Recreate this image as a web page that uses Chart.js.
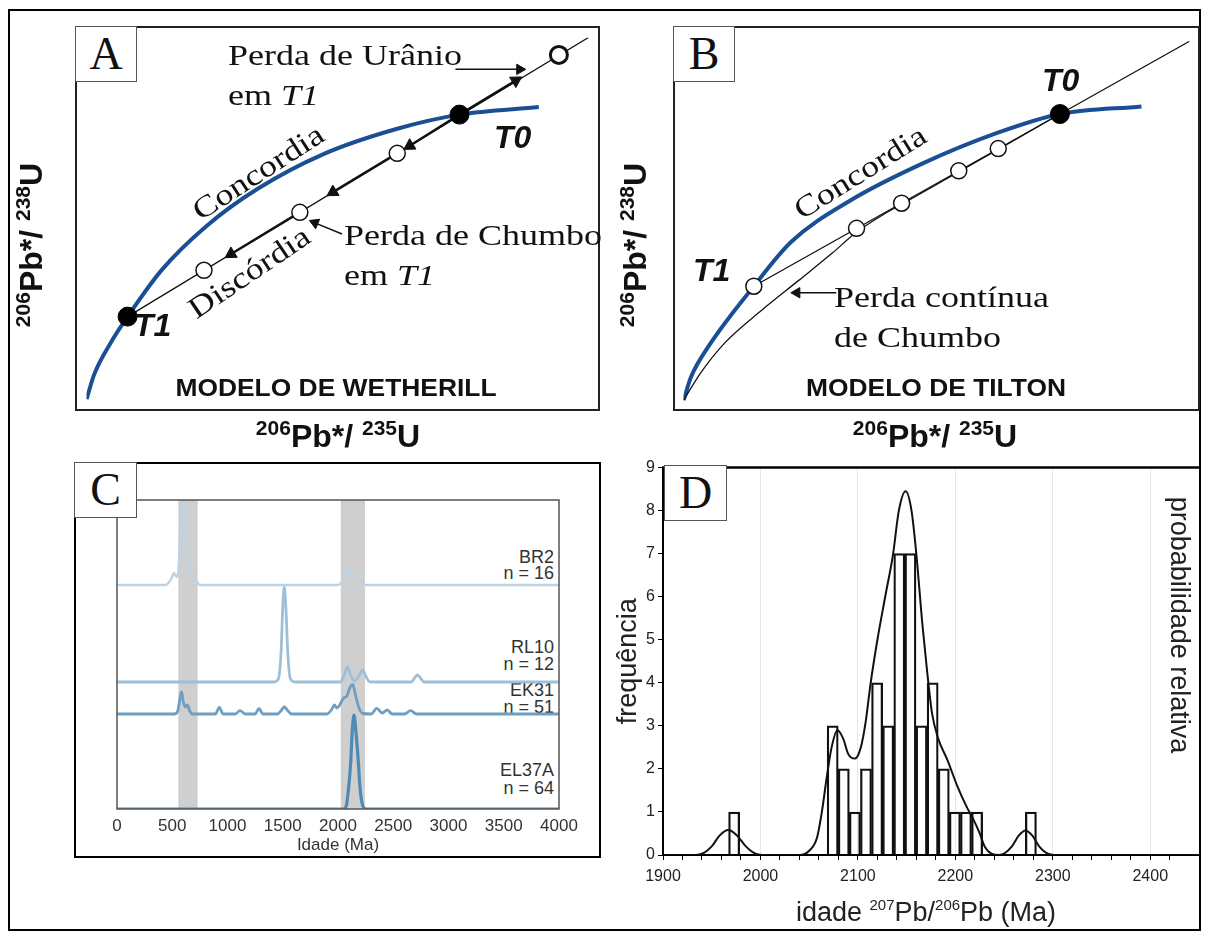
<!DOCTYPE html>
<html>
<head>
<meta charset="utf-8">
<script src="https://cdn.jsdelivr.net/npm/chart.js@4.4.1/dist/chart.umd.min.js"></script>
<style>
  body { margin: 0; background: #fff; width: 1206px; height: 937px; position: relative; overflow: hidden;
         font-family: "Liberation Sans", Arial, sans-serif; color: #111; }
  canvas { position: absolute; z-index: 1; }
  .box { position: absolute; box-sizing: border-box; border: 2px solid #222; z-index: 2; }
  .tag { position: absolute; box-sizing: border-box; border: 1.5px solid #555; background: #fff; z-index: 4;
         font: 46px "Liberation Serif", serif; text-align: center; line-height: 54px; }
  .t { position: absolute; white-space: nowrap; line-height: 1; z-index: 3; }
  .serif { font-family: "Liberation Serif", serif; font-size: 30px; }
  .ax { font-weight: bold; font-size: 32px; }
  .ax sup, .dx sup { vertical-align: 0; position: relative; }
  .ax sup { font-size: 21px; top: -12px; }
  .tt { font-weight: bold; font-style: italic; font-size: 32px; }
  .mod { font-weight: bold; font-size: 24px; }
  .cl { font-size: 18px; color: #333; z-index: 0; line-height: 1; }
  .dx { font-size: 27px; color: #222; }
  .dx sup { font-size: 15px; top: -11px; }
</style>
</head>
<body>
<div class="box" style="left:8px;top:9px;width:1193px;height:922px;border-width:2.5px;border-color:#000"></div>

<canvas id="chartA" width="525" height="385" style="left:75px;top:26px"></canvas>
<div class="box" style="left:75px;top:26px;width:525px;height:385px"></div>
<div class="tag" style="left:75px;top:26px;width:62px;height:56px">A</div>

<canvas id="chartB" width="527" height="385" style="left:673px;top:26px"></canvas>
<div class="box" style="left:673px;top:26px;width:527px;height:385px"></div>
<div class="tag" style="left:673px;top:26px;width:62px;height:56px">B</div>

<canvas id="chartC" width="523" height="392" style="left:76px;top:464px"></canvas>
<div class="box" style="left:74px;top:462px;width:527px;height:396px;border-color:#000"></div>
<div class="tag" style="left:74px;top:462px;width:63px;height:56px">C</div>

<canvas id="chartD" width="606" height="475" style="left:600px;top:455px"></canvas>
<div class="tag" style="left:664px;top:465px;width:63px;height:56px">D</div>

<script>
Chart.defaults.font.family = '"Liberation Sans", Arial, sans-serif';

// ===== A: Wetherill (schematic units) =====
const concAX = [0, 1.5, 4.8, 8.2, 15.0, 23.8, 34.1, 47.2, 61.9, 74.3, 90.1];
const concAY = [0, 6.8, 15.6, 22.9, 35.8, 47.8, 58.2, 67.8, 74.8, 78.7, 80.8];
const discAX = [8.19, 100];
const discAY = [22.9, 100];
const solidAX = [8.19, 74.3];
const solidAY = [22.9, 78.7];
const openAX = [23.4, 42.5, 61.9];
const openAY = [35.7, 51.7, 68.0];
const uLossX = [94.1];
const uLossY = [95.2];

// ===== B: Tilton =====
const concBX = [0, 1.5, 5.0, 13.9, 21.3, 32.8, 47.4, 62.0, 74.4, 90.5];
const concBY = [0, 6.5, 15.0, 31.4, 43.6, 54.8, 65.2, 73.5, 78.7, 80.8];
const discBX = [13.9, 100];
const discBY = [31.4, 98.7];
const contBX = [0, 3.23, 8.16, 15.56, 22.77, 29.41, 34.16, 39.28, 44.02, 74.4];
const contBY = [0, 7.27, 15.84, 24.94, 33.0, 40.5, 46.2, 50.9, 54.6, 78.7];
const solidBX = [74.4];
const solidBY = [78.7];
const openBX = [13.9, 34.2, 43.1, 54.4, 62.2];
const openBY = [31.4, 47.3, 54.2, 63.1, 69.2];

// ===== C: probability curves (Ma, relative density) =====
const cNames = ['BR2', 'RL10', 'EK31', 'EL37A'];
const cCounts = [16, 12, 51, 64];
const cOffset = [224, 127, 95, 0];
const brAge = [0, 440, 490, 516, 540, 565, 585, 597, 610, 630, 650, 672, 697, 720, 750, 2000, 2050, 2080, 2110, 2130, 2150, 2170, 2200, 2240, 4000];
const brDen = [0, 0, 6, 12, 8, 30, 110, 150, 110, 30, 20, 14, 10, 4, 0, 0, 6, 15, 10, 10, 12, 10, 4, 0, 0];
const rlAge = [0, 1420, 1460, 1485, 1500, 1514, 1528, 1545, 1570, 1610, 2020, 2060, 2084, 2110, 2150, 2190, 2224, 2255, 2290, 2660, 2700, 2718, 2740, 2780, 4000];
const rlDen = [0, 0, 3, 30, 75, 95, 75, 30, 3, 0, 0, 8, 15, 8, 1, 6, 12, 5, 0, 0, 5, 7, 5, 0, 0];
const ekAge = [0, 520, 550, 570, 585, 600, 620, 637, 655, 680, 890, 926, 960, 1070, 1113, 1160, 1250, 1285, 1320, 1450,
               1490, 1514, 1540, 1580, 1900, 1940, 1967, 1990, 2010, 2048, 2080, 2110, 2133, 2160, 2190, 2226, 2300, 2350, 2400, 2446,
               2490, 2600, 2658, 2710, 4000];
const ekDen = [0, 0, 3, 16, 22, 12, 7, 9, 4, 0, 0, 6.7, 0, 0, 3.3, 0, 0, 5.7, 0, 0,
               4, 7.3, 4, 0, 0, 4, 9, 6, 8, 15.7, 18, 27, 29.7, 18, 6, 0.5, 0, 5.7, 1, 4,
               0, 0, 3.3, 0, 0];
const elAge = [0, 2040, 2072, 2095, 2115, 2130, 2145, 2160, 2184, 2200, 2229, 2260, 4000];
const elDen = [0, 0, 2, 20, 47, 80, 94, 80, 47, 20, 2, 0, 0];
const bandFrom = [555, 2025];
const bandTo = [730, 2244];
const cTicks = [0, 500, 1000, 1500, 2000, 2500, 3000, 3500, 4000];

// ===== D: histogram + probability =====
const histCenter = [1973, 2074.1, 2085.5, 2096.9, 2108.3, 2119.7, 2131.1, 2142.5, 2153.9, 2165.3, 2176.7, 2188.1, 2199.5, 2210.9, 2222.3, 2277.5];
const histCount = [1, 3, 2, 1, 2, 4, 3, 7, 7, 3, 4, 2, 1, 1, 1, 1];
const probAge = [1900, 1930, 1940, 1950, 1958, 1967, 1976, 1985, 1995, 2005, 2040, 2050, 2058, 2063, 2068, 2073, 2079, 2085, 2090, 2097,
                 2103, 2108, 2113, 2120, 2128, 2136, 2142, 2149, 2155, 2160, 2166, 2171, 2176, 2182, 2192, 2202, 2212, 2218, 2225, 2230,
                 2237, 2245, 2250, 2258, 2265, 2272, 2279, 2286, 2295, 2305, 2450];
const probVal = [0, 0, 0.03, 0.2, 0.45, 0.58, 0.45, 0.2, 0.03, 0, 0, 0.1, 0.4, 1.0, 1.8, 2.5, 2.9, 2.7, 2.35, 2.24,
                 2.5, 3.1, 3.98, 5.0, 6.0, 6.98, 8.0, 8.45, 8.0, 6.98, 5.4, 4.27, 3.3, 2.73, 2.2, 1.6, 1.1, 0.85, 0.5, 0.2,
                 0.03, 0, 0.03, 0.2, 0.45, 0.57, 0.45, 0.2, 0.03, 0, 0];

const pts = (xs, ys) => xs.map((x, i) => ({x: x, y: ys[i]}));

// arrows: [x0, y0, x1, y1, head rotation, line width, head size]
const arrowsA = [
  [74.3, 78.7, 85.5, 88.1, 58.4, 2.5, 7],
  [74.3, 78.7, 64.4, 70.1, 238.4, 2.5, 7],
  [60.8, 67.1, 49.1, 57.3, 238.4, 2.5, 7],
  [41.9, 51.2, 28.8, 40.2, 238.4, 2.5, 7],
  [73.5, 91.2, 86.3, 91.2, 90, 1.5, 6],
  [50.9, 45.7, 45.5, 48.8, 292.7, 1.5, 6]
];
const arrowsB = [
  [30.2, 29.6, 22.4, 29.6, 270, 1.5, 6]
];

function arrow(a) {
  return {
    data: [{x: a[0], y: a[1]}, {x: a[2], y: a[3]}],
    borderColor: '#111', borderWidth: a[5],
    pointRadius: [0, a[6]], pointStyle: 'triangle', pointRotation: a[4],
    pointBackgroundColor: '#111', pointBorderColor: '#111', pointBorderWidth: 1,
    order: 1
  };
}

function schemOptions() {
  return {
    responsive: false, animation: false, events: [],
    layout: { padding: 0 },
    plugins: { legend: { display: false }, tooltip: { enabled: false } },
    scales: {
      x: { type: 'linear', min: 0, max: 100, display: false },
      y: { type: 'linear', min: 0, max: 100, display: false }
    }
  };
}

const concStyle = { borderColor: '#1b4f95', borderWidth: 4, pointRadius: 0, cubicInterpolationMode: 'monotone', order: 3 };
const thinStyle = { borderColor: '#111', borderWidth: 1.3, pointRadius: 0, order: 2 };
const openStyle = { showLine: false, pointRadius: 8, pointBackgroundColor: '#fff', pointBorderColor: '#111', pointBorderWidth: 1.5, order: 0 };
const solidStyle = { showLine: false, pointRadius: 9.5, pointBackgroundColor: '#000', pointBorderColor: '#000', order: 0 };

// ===== Chart A =====
new Chart(document.getElementById('chartA'), {
  type: 'line',
  data: {
    datasets: [
      Object.assign({ data: pts(concAX, concAY) }, concStyle),
      Object.assign({ data: pts(discAX, discAY) }, thinStyle),
      Object.assign({ data: pts(openAX, openAY) }, openStyle),
      Object.assign({ data: pts(uLossX, uLossY) }, openStyle, { pointBorderWidth: 3, pointRadius: 8.5 }),
      Object.assign({ data: pts(solidAX, solidAY) }, solidStyle)
    ].concat(arrowsA.map(arrow))
  },
  options: schemOptions()
});

// ===== Chart B =====
new Chart(document.getElementById('chartB'), {
  type: 'line',
  data: {
    datasets: [
      Object.assign({ data: pts(concBX, concBY) }, concStyle),
      Object.assign({ data: pts(discBX, discBY) }, thinStyle),
      Object.assign({ data: pts(contBX, contBY) }, thinStyle, { cubicInterpolationMode: 'monotone' }),
      Object.assign({ data: pts(openBX, openBY) }, openStyle),
      Object.assign({ data: pts(solidBX, solidBY) }, solidStyle)
    ].concat(arrowsB.map(arrow))
  },
  options: schemOptions()
});

// ===== Chart C =====
const cAges = [brAge, rlAge, ekAge, elAge];
const cDens = [brDen, rlDen, ekDen, elDen];
const cColors = ['#bcd3e5', '#9dbfd8', '#6e9ec0', '#4f8ab5'];
const cWidths = [2.5, 2.8, 2.8, 3.2];

const cDecor = {
  id: 'cDecor',
  beforeDatasetsDraw(chart) {
    const {ctx, chartArea: a, scales: {x}} = chart;
    ctx.save();
    ctx.fillStyle = '#cfcfcf';
    bandFrom.forEach((f, i) => {
      const x0 = x.getPixelForValue(f), x1 = x.getPixelForValue(bandTo[i]);
      ctx.fillRect(x0, a.top, x1 - x0, a.bottom - a.top);
    });
    ctx.restore();
  },
  afterDatasetsDraw(chart) {
    const {ctx, chartArea: a} = chart;
    ctx.save();
    ctx.strokeStyle = '#555';
    ctx.lineWidth = 1.5;
    ctx.strokeRect(a.left, a.top, a.right - a.left, a.bottom - a.top);
    ctx.restore();
  }
};

new Chart(document.getElementById('chartC'), {
  type: 'line',
  data: {
    datasets: cNames.map((n, k) => ({
      label: n,
      data: cAges[k].map((a, i) => ({x: a, y: cOffset[k] + cDens[k][i]})),
      borderColor: cColors[k], borderWidth: cWidths[k],
      pointRadius: 0, cubicInterpolationMode: 'monotone'
    }))
  },
  options: {
    responsive: false, animation: false, events: [],
    layout: { padding: { left: 41, right: 40, top: 36, bottom: 0 } },
    plugins: { legend: { display: false }, tooltip: { enabled: false } },
    scales: {
      x: {
        type: 'linear', min: 0, max: 4000,
        afterBuildTicks: s => { s.ticks = cTicks.map(v => ({value: v})); },
        afterFit: s => { s.height = 47; },
        ticks: { color: '#333', font: { size: 17 }, padding: 7, autoSkip: false, maxRotation: 0,
                 callback: v => String(v) },
        grid: { display: false, drawTicks: false },
        border: { display: false },
        title: { display: true, text: 'Idade (Ma)', color: '#333', font: { size: 17 }, padding: { top: 0, bottom: 0 } }
      },
      y: { min: 0, max: 309, display: false }
    }
  },
  plugins: [cDecor]
});

// ===== Chart D =====
const dTop = {
  id: 'dTop',
  afterDraw(chart) {
    const {ctx, chartArea: a} = chart;
    ctx.save();
    ctx.strokeStyle = '#000';
    ctx.lineWidth = 2.5;
    ctx.beginPath();
    ctx.moveTo(a.left - 1, a.top);
    ctx.lineTo(a.right, a.top);
    ctx.stroke();
    ctx.restore();
  }
};

new Chart(document.getElementById('chartD'), {
  type: 'line',
  data: {
    datasets: [
      {
        type: 'line',
        data: pts(probAge, probVal),
        borderColor: '#111', borderWidth: 2,
        pointRadius: 0, cubicInterpolationMode: 'monotone',
        order: 0
      },
      {
        type: 'bar',
        data: pts(histCenter, histCount),
        backgroundColor: 'rgba(255,255,255,0)',
        borderColor: '#111', borderWidth: 1.6,
        barPercentage: 1, categoryPercentage: 1,
        order: 1
      }
    ]
  },
  options: {
    responsive: false, animation: false, events: [],
    layout: { padding: { left: 0, right: 4, top: 10, bottom: 0 } },
    plugins: { legend: { display: false }, tooltip: { enabled: false } },
    scales: {
      x: {
        type: 'linear', min: 1900, max: 2450, offset: false,
        afterFit: s => { s.height = 75; },
        ticks: {
          stepSize: 20, autoSkip: false, maxRotation: 0, padding: 7,
          color: '#222', font: { size: 16 },
          callback: v => (v % 100 === 0 ? String(v) : '')
        },
        grid: {
          offset: false, tickLength: 5, lineWidth: 1,
          color: c => (c.tick && c.tick.value % 100 === 0 && c.tick.value > 1900 ? '#e6e6e6' : 'rgba(0,0,0,0)'),
          tickColor: '#000'
        },
        border: { color: '#000', width: 2 }
      },
      y: {
        type: 'linear', min: 0, max: 9,
        afterFit: s => { s.width = 63; },
        ticks: { stepSize: 1, padding: 3, color: '#222', font: { size: 16 } },
        grid: { drawOnChartArea: false, tickLength: 5, tickColor: '#000' },
        border: { color: '#000', width: 2 },
        title: { display: true, text: 'frequência', color: '#222', font: { size: 27 }, padding: { top: 12, bottom: 0 } }
      }
    }
  },
  plugins: [dTop]
});

// ===== text labels =====
// [html, x, y, class, anchor, rotation, stretch]
const labels = [
  ['Perda de Urânio', 228, 55, 'serif', 'l', 0, 1.2],
  ['em <i>T1</i>', 228, 95, 'serif', 'l', 0, 1.2],
  ['Perda de Chumbo', 344, 235, 'serif', 'l', 0, 1.2],
  ['em <i>T1</i>', 344, 275, 'serif', 'l', 0, 1.2],
  ['Concordia', 258, 172, 'serif', 'c', -33, 1.2],
  ['Discórdia', 249, 272, 'serif', 'c', -34, 1.2],
  ['T0', 494, 137, 'tt', 'l', 0, 1],
  ['T1', 134, 325, 'tt', 'l', 0, 1],
  ['MODELO DE WETHERILL', 336, 388, 'mod', 'c', 0, 1.1],
  ['<sup>206</sup>Pb*/ <sup>238</sup>U', 31, 245, 'ax', 'c', -90, 1],
  ['<sup>206</sup>Pb*/ <sup>235</sup>U', 338, 436, 'ax', 'c', 0, 1],
  ['T0', 1042, 80, 'tt', 'l', 0, 1],
  ['T1', 693, 270, 'tt', 'l', 0, 1],
  ['Concordia', 860, 172, 'serif', 'c', -32, 1.2],
  ['Perda contínua', 834, 297, 'serif', 'l', 0, 1.2],
  ['de Chumbo', 834, 337, 'serif', 'l', 0, 1.2],
  ['MODELO DE TILTON', 936, 388, 'mod', 'c', 0, 1.1],
  ['<sup>206</sup>Pb*/ <sup>238</sup>U', 635, 245, 'ax', 'c', -90, 1],
  ['<sup>206</sup>Pb*/ <sup>235</sup>U', 935, 436, 'ax', 'c', 0, 1],
  ['probabilidade relativa', 1179, 625, 'dx', 'c', 90, 1],
  ['idade <sup>207</sup>Pb/<sup>206</sup>Pb (Ma)', 926, 912, 'dx', 'c', 0, 1]
];
// sample names in panel C sit under the curves
const cLabelY = [[557, 573], [647, 664], [690, 707], [770, 788]];
cNames.forEach((n, k) => {
  labels.push([n, 554, cLabelY[k][0], 'cl', 'r', 0, 1]);
  labels.push(['n = ' + cCounts[k], 554, cLabelY[k][1], 'cl', 'r', 0, 1]);
});

labels.forEach(([h, x, y, c, a, r, s]) => {
  const d = document.createElement('div');
  d.className = 't ' + c;
  d.innerHTML = h;
  d.style.left = x + 'px';
  d.style.top = y + 'px';
  const tx = a === 'l' ? '0' : a === 'r' ? '-100%' : '-50%';
  d.style.transformOrigin = a === 'l' ? '0 50%' : a === 'r' ? '100% 50%' : '50% 50%';
  d.style.transform = 'translate(' + tx + ',-50%) rotate(' + r + 'deg) scaleX(' + s + ')';
  document.body.appendChild(d);
});
</script>
</body>
</html>
